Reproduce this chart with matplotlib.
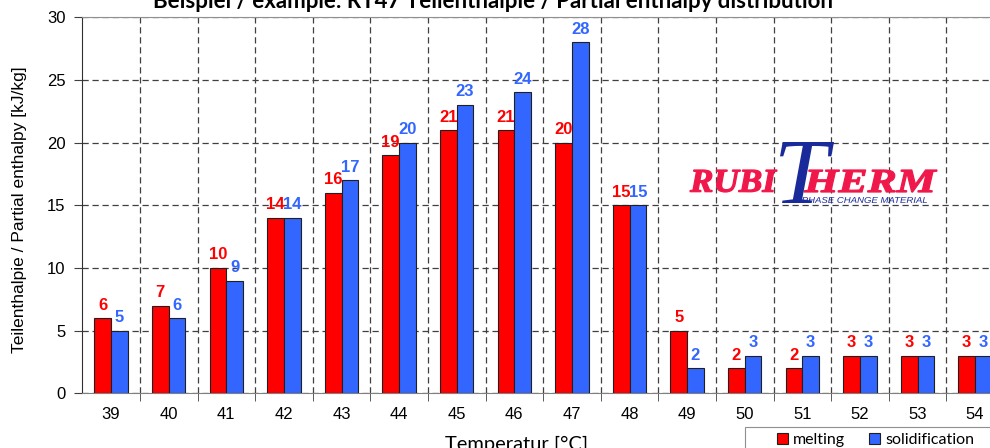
import matplotlib
matplotlib.use("Agg")
import matplotlib.pyplot as plt
import numpy as np
from matplotlib.textpath import TextPath
from matplotlib.patches import PathPatch, Rectangle
from matplotlib.font_manager import FontProperties
from matplotlib.transforms import Affine2D, IdentityTransform

categories = ["39", "40", "41", "42", "43", "44", "45", "46", "47", "48", "49", "50", "51", "52", "53", "54"]
melting = [6, 7, 10, 14, 16, 19, 21, 21, 20, 15, 5, 2, 2, 3, 3, 3]
solidification = [5, 6, 9, 14, 17, 20, 23, 24, 28, 15, 2, 3, 3, 3, 3, 3]
y_ticks = [0, 5, 10, 15, 20, 25, 30]

RED = "#FF0000"
BLUE = "#3366FF"
W, H = 990, 448

plt.rcParams['font.family'] = ['Liberation Sans', 'DejaVu Sans']
fig = plt.figure(figsize=(W / 100, H / 100), dpi=100)
ax = fig.add_axes([82.3 / W, 1 - 393.3 / H, 921.6 / W, (393.3 - 17.3) / H])

x = np.arange(len(categories))
bw = 0.29
ax.bar(x - bw / 2, melting, bw, color=RED, edgecolor="#202020", linewidth=0.8, zorder=3, label="melting")
ax.bar(x + bw / 2, solidification, bw, color=BLUE, edgecolor="#202020", linewidth=0.8, zorder=3, label="solidification")

for xi, m, s in zip(x, melting, solidification):
    ax.annotate(str(m), (xi - bw / 2, m), xytext=(0, 4), textcoords="offset points",
                ha="center", va="bottom", color=RED, fontsize=12, fontweight="bold")
    ax.annotate(str(s), (xi + bw / 2, s), xytext=(0, 4), textcoords="offset points",
                ha="center", va="bottom", color=BLUE, fontsize=12, fontweight="bold")

ax.set_xlim(-0.5, len(categories) - 0.5)
ax.set_ylim(0, 30)
ax.set_yticks(y_ticks)
ax.set_xticks(x)
ax.set_xticklabels(categories)
ax.set_xticks(np.arange(0.5, len(categories) - 0.5), minor=True)
ax.tick_params(axis="x", which="major", length=0, pad=10, labelsize=12)
ax.tick_params(axis="x", which="minor", length=6, direction="out", color="#404040")
ax.tick_params(axis="y", length=6, direction="out", labelsize=12, pad=6, color="#404040")

ax.grid(axis="y", which="major", linestyle=(0, (5, 3)), color="#404040", linewidth=0.9, zorder=0)
ax.grid(axis="x", which="minor", linestyle=(0, (5, 3)), color="#404040", linewidth=0.9, zorder=0)
ax.set_axisbelow(True)

ax.spines["left"].set_color("#303030")
ax.spines["bottom"].set_color("#808080")
ax.spines["top"].set_color("#909090")
ax.spines["right"].set_visible(False)

fig.text(20 / W, 1 - 210 / H, "Teilenthalpie / Partial enthalpy [kJ/kg]", rotation=90,
         ha="center", va="center", fontsize=12.5)

calibri = ["Lato", "DejaVu Sans"]
fig.text(493 / W, 1 - 8 / H, "Beispiel / example: RT47 Teilenthalpie / Partial enthalpy distribution",
         ha="center", va="baseline", fontsize=16, fontweight="bold", family=calibri)
fig.text(517 / W, 1 - 450 / H, "Temperatur [°C]", ha="center", va="baseline",
         fontsize=14.5, family=calibri)

# legend frame (partly outside the canvas, as in the reference)
fig.patches.append(Rectangle((745, -10), 300, H - 427 + 10, facecolor="white",
                             edgecolor="#909090", linewidth=0.8, transform=IdentityTransform(),
                             figure=fig, zorder=5))
leg = fig.legend(loc="upper left", bbox_to_anchor=(774 / W, 1 - 430 / H), ncol=2,
                 frameon=False, prop={"family": calibri, "size": 11.5},
                 handlelength=0.7, handleheight=0.7, handletextpad=0.3, columnspacing=1.5,
                 borderpad=0.2, borderaxespad=0)
leg.set_zorder(6)


# Logo (drawn as text outlines fitted to pixel boxes)
def fit_text(s, x0, x1, y_top, y_bot, color, prop, lw=0.0):
    tp = TextPath((0, 0), s, size=100, prop=prop)
    ext = tp.get_extents()
    sx = (x1 - x0) / ext.width
    sy = (y_bot - y_top) / ext.height
    tr = Affine2D().translate(-ext.x0, -ext.y0).scale(sx, sy).translate(x0, H - y_bot)
    patch = PathPatch(tr.transform_path(tp), facecolor=color, edgecolor=color if lw else "none",
                      linewidth=lw, transform=IdentityTransform())
    fig.patches.append(patch)
    patch.set_figure(fig)


LOGO_RED = "#F0184A"
LOGO_BLUE = "#1A2A9A"
serif_bi = FontProperties(family=["Liberation Serif"], weight="bold", style="italic")
serif_i = FontProperties(family=["Liberation Serif"], style="italic")
sans_i = FontProperties(family=["Liberation Sans"], style="italic")
fit_text("RUBI", 690, 777, 170, 192, LOGO_RED, serif_bi, lw=0.9)
fit_text("HERM", 804, 937, 170, 192, LOGO_RED, serif_bi, lw=0.9)
fit_text("T", 780, 834, 142, 203, LOGO_BLUE, serif_i)
fit_text("PHASE CHANGE MATERIAL", 802, 927, 197, 203, LOGO_BLUE, sans_i)

fig.savefig("out.png", dpi=100)
